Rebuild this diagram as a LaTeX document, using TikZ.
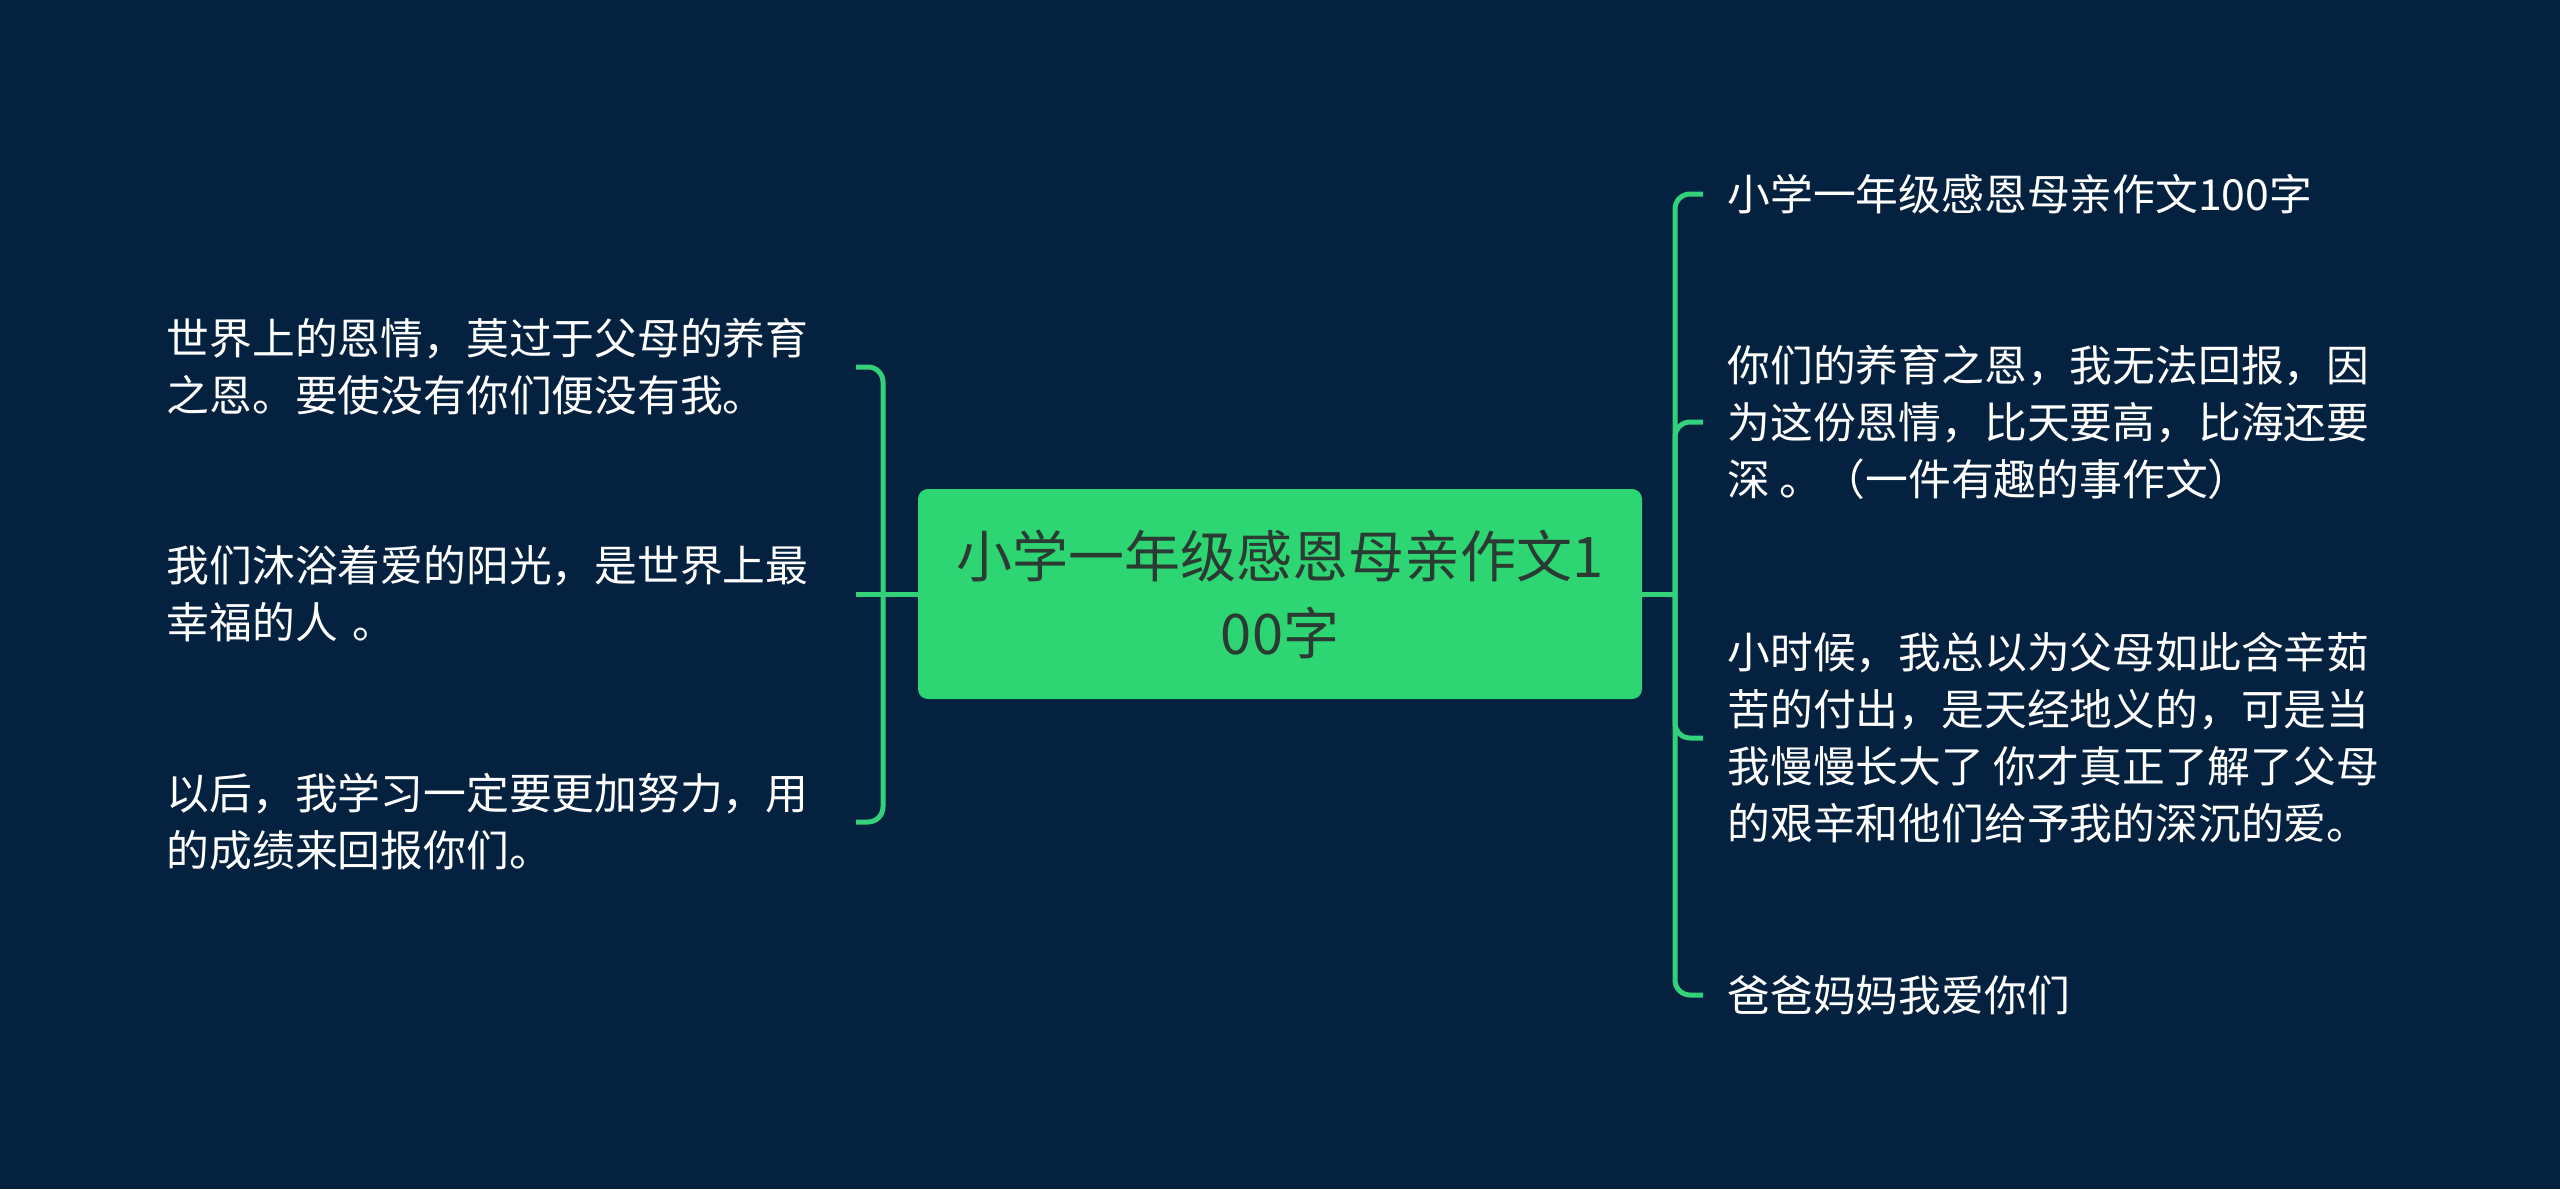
\documentclass[tikz,border=0pt]{standalone}
\usepackage{fontspec}
\newfontfamily\cjk{Noto Sans CJK SC}
\definecolor{bgc}{HTML}{04223F}
\definecolor{linec}{HTML}{33D17A}
\definecolor{rootc}{HTML}{2ED573}
\definecolor{roottext}{HTML}{2B3A33}
\tikzset{
  conn/.style={draw=linec, line width=2.5pt, rounded corners=7.5pt},
  leaf/.style={text=white, font=\cjk\fontsize{21.4pt}{28.5pt}\selectfont, align=left, inner sep=0pt},
  lleaf/.style={leaf, anchor=east, text width=344.5pt},
  rleaf/.style={leaf, anchor=west, inner xsep=12pt},
  rootbox/.style={fill=rootc, rounded corners=5pt, minimum width=362pt, minimum height=105pt,
    text=roottext, font=\cjk\fontsize{28pt}{38.5pt}\selectfont, align=center, inner sep=0pt}
}
\begin{document}
\begin{tikzpicture}[x=0.5pt, y=-0.5pt]
\fill[bgc] (0,0) rectangle (2560,1189);
\useasboundingbox (0,0) rectangle (2560,1189);

\node[rootbox] (c) at (1280,594) {小学一年级感恩母亲作文1\\00字};

% left side
\coordinate (lm) at (883,594);
\node[lleaf] (l1) at (856,367) {世界上的恩情，莫过于父母的养育\\之恩。要使没有你们便没有我。};
\node[lleaf] (l2) at (856,594) {我们沐浴着爱的阳光，是世界上最\\幸福的人 。};
\node[lleaf] (l3) at (856,822) {以后，我学习一定要更加努力，用\\的成绩来回报你们。};

\draw[conn] (c.west) -- (lm);
\draw[conn] (lm) |- (l1.east);
\draw[conn] (lm) -- (l2.east);
\draw[conn] (lm) |- (l3.east);

% right side
\coordinate (rm) at (1675,594);
\node[rleaf] (r1) at (1703,194) {小学一年级感恩母亲作文100字};
\node[rleaf] (r2) at (1703,422) {你们的养育之恩，我无法回报，因\\为这份恩情，比天要高，比海还要\\深 。（一件有趣的事作文）};
\node[rleaf] (r3) at (1703,738) {小时候，我总以为父母如此含辛茹\\苦的付出，是天经地义的，可是当\\我慢慢长大了 你才真正了解了父母\\的艰辛和他们给予我的深沉的爱。};
\node[rleaf] (r4) at (1703,995) {爸爸妈妈我爱你们};

\draw[conn] (c.east) -- (rm);
\draw[conn] (rm) |- (r1.west);
\draw[conn] (rm) |- (r2.west);
\draw[conn] (rm) |- (r3.west);
\draw[conn] (rm) |- (r4.west);
\end{tikzpicture}
\end{document}
